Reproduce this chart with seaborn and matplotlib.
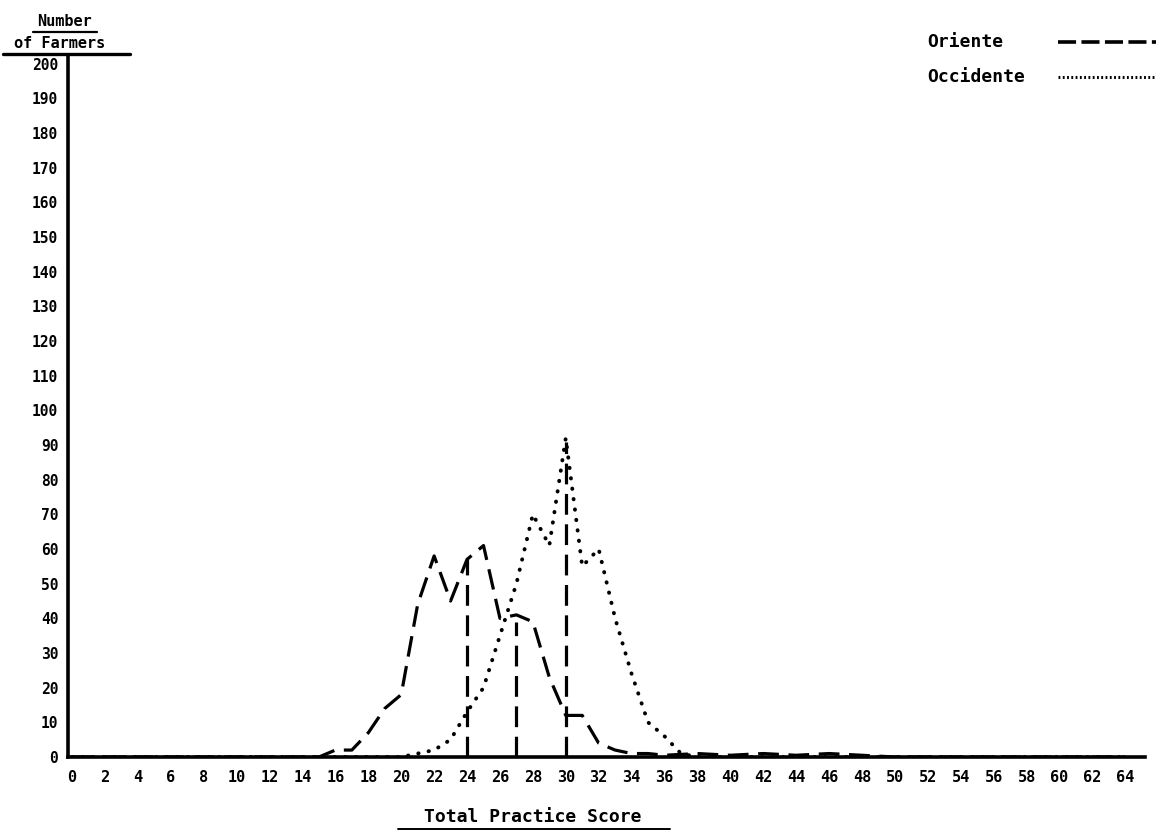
import numpy as np
import pandas as pd
import seaborn as sns
import matplotlib.pyplot as plt
from matplotlib.lines import Line2D

# values: number of farmers at each total practice score
oriente_score = [0, 15, 16, 17, 18, 19, 20, 21, 22, 23, 24, 25, 26, 27, 28, 29,
                 30, 31, 32, 33, 34, 35, 36, 38, 40, 42, 44, 46, 48, 50, 64]
oriente_farmers = [0, 0, 2, 2, 7, 14, 18, 44, 58, 45, 57, 61, 40, 41, 39, 23,
                   12, 12, 4, 2, 1, 1, 0.5, 1, 0.5, 1, 0.5, 1, 0.5, 0, 0]

occidente_score = [0, 20, 21, 22, 23, 24, 25, 26, 27, 28, 29, 30, 31, 32, 33,
                   34, 35, 36, 37, 38, 64]
occidente_farmers = [0, 0, 1, 2, 5, 13, 20, 35, 50, 70, 61, 92, 55, 60, 40,
                     24, 10, 6, 1, 0, 0]

# dashed drop lines down to the axis
drop_score = [24, 27, 30]
drop_top = [57, 39, 91]

x_ticks = list(range(0, 66, 2))
y_ticks = list(range(0, 210, 10))

oriente = pd.DataFrame({'score': oriente_score, 'farmers': oriente_farmers})
occidente = pd.DataFrame({'score': occidente_score, 'farmers': occidente_farmers})

sns.set_style('white')
plt.rcParams['font.family'] = ['DejaVu Sans Mono', 'DejaVu Sans']
plt.rcParams['font.weight'] = 'bold'
plt.rcParams['text.color'] = 'black'
plt.rcParams['xtick.color'] = 'black'
plt.rcParams['ytick.color'] = 'black'

fig = plt.figure(figsize=(11.56, 8.34), dpi=100)
ax = fig.add_axes([68 / 1156, 1 - 757 / 834, 1077 / 1156, 702 / 834])

dash_style = (0, (6.5, 3))
dot_style = (0, (0.1, 2.6))

sns.lineplot(data=oriente, x='score', y='farmers', ax=ax, color='black',
             linewidth=2.3, linestyle=dash_style, sort=False)
sns.lineplot(data=occidente, x='score', y='farmers', ax=ax, color='black',
             linewidth=2.8, linestyle=dot_style, dash_capstyle='round', sort=False)
ax.vlines(drop_score, 0, drop_top, colors='black', linewidth=2.3, linestyles=dash_style)

ax.set_xlim(-0.25, 65.2)
ax.set_ylim(0, 202.5)
ax.set_xticks(x_ticks)
ax.set_yticks(y_ticks)
ax.tick_params(axis='x', length=0, pad=9, labelsize=11)
ax.tick_params(axis='y', length=0, pad=7, labelsize=10.5)
for lab in ax.get_xticklabels() + ax.get_yticklabels():
    lab.set_fontweight('bold')
ax.set_xlabel('')
ax.set_ylabel('')

sns.despine(ax=ax)
for side in ['left', 'bottom']:
    ax.spines[side].set_linewidth(2.6)
    ax.spines[side].set_color('black')

# y-axis heading, underlined, sitting on top of the axis
fig.text(65 / 1156, 1 - 22 / 834, 'Number', ha='center', va='center',
         fontsize=11, fontweight='bold')
fig.add_artist(Line2D([33 / 1156, 97 / 1156], [1 - 32 / 834, 1 - 32 / 834],
                      color='black', linewidth=1.6))
fig.text(60 / 1156, 1 - 43 / 834, 'of Farmers', ha='center', va='center',
         fontsize=11, fontweight='bold')
fig.add_artist(Line2D([3 / 1156, 130 / 1156], [1 - 54 / 834, 1 - 54 / 834],
                      color='black', linewidth=2.4))

# x-axis heading, underlined
fig.text(533 / 1156, 1 - 817 / 834, 'Total Practice Score', ha='center',
         va='center', fontsize=13, fontweight='bold')
fig.add_artist(Line2D([398 / 1156, 670 / 1156], [1 - 829 / 834, 1 - 829 / 834],
                      color='black', linewidth=1.4))

# legend, text first then the line sample running to the edge
legend_labels = ['Oriente', 'Occidente']
legend_styles = [((0, (5, 1.5)), 2.6), ((0, (0.6, 0.8)), 2.2)]
legend_rows = [42, 77]
for label, (ls, lw), row in zip(legend_labels, legend_styles, legend_rows):
    fig.text(927 / 1156, 1 - row / 834, label, ha='left', va='center',
             fontsize=13, fontweight='bold')
    fig.add_artist(Line2D([1058 / 1156, 1.0], [1 - row / 834, 1 - row / 834],
                          color='black', linewidth=lw, linestyle=ls))

fig.savefig('out.png', dpi=100)
